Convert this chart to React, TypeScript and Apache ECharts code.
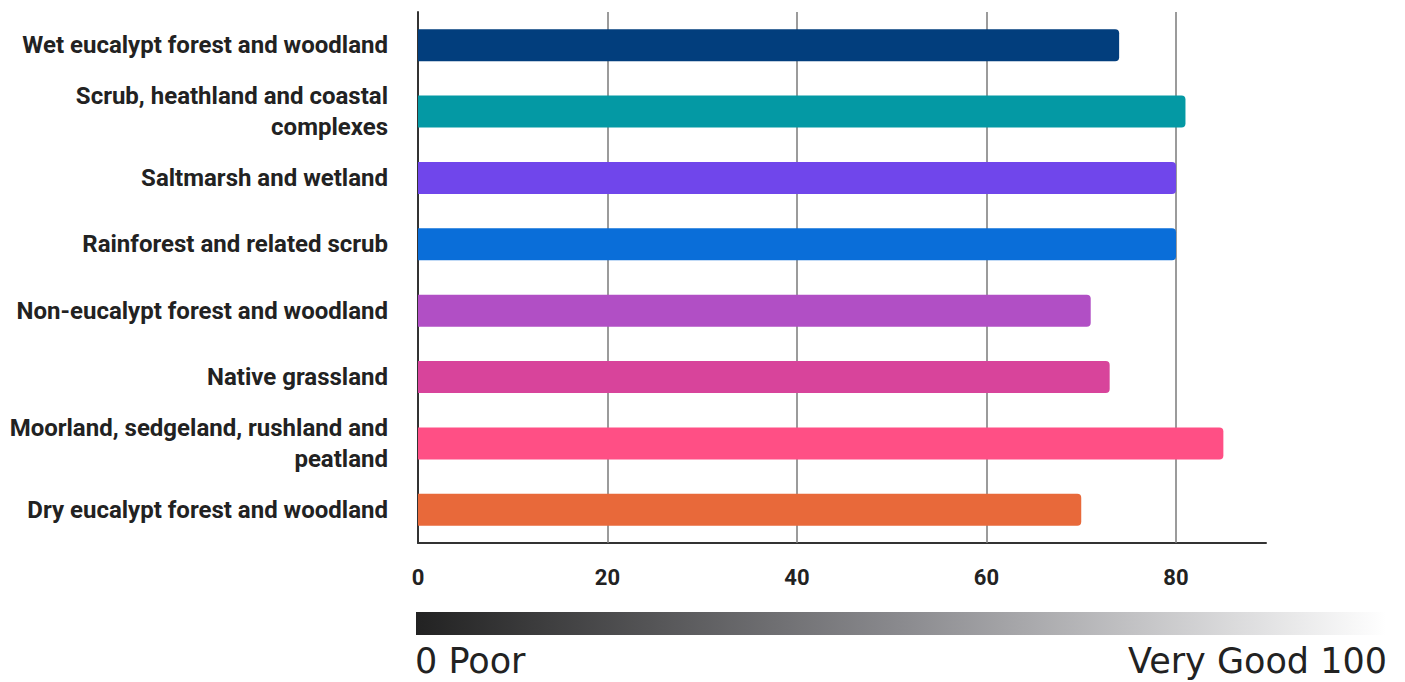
import React, { useEffect, useRef } from "react";
import * as echarts from "echarts";

const categories = [
  "Wet eucalypt forest and woodland",
  "Scrub, heathland and coastal\ncomplexes",
  "Saltmarsh and wetland",
  "Rainforest and related scrub",
  "Non-eucalypt forest and woodland",
  "Native grassland",
  "Moorland, sedgeland, rushland and\npeatland",
  "Dry eucalypt forest and woodland",
];
const values = [74, 81, 80, 80, 71, 73, 85, 70];
const barColors = [
  "#023E7D",
  "#0499A4",
  "#7046EB",
  "#0A6ED9",
  "#B14FC5",
  "#D8449B",
  "#FF4F85",
  "#E8693A",
];
const gridTicks = [20, 40, 60, 80];
const scaleLabels = ["0 Poor", "Very Good 100"];

export default function App() {
  const ref = useRef<HTMLDivElement>(null);
  useEffect(() => {
    if (!ref.current) return;
    const chart = echarts.init(ref.current, undefined, { renderer: "svg" });
    chart.setOption({
      animation: false,
      backgroundColor: "#ffffff",
      grid: { left: 418, top: 12, width: 848, height: 531, containLabel: false },
      xAxis: {
        type: "value",
        min: 0,
        max: 89.5,
        interval: 20,
        splitLine: { show: false },
        axisTick: { show: false },
        axisLine: { show: true, lineStyle: { color: "#333", width: 2 } },
        axisLabel: {
          showMaxLabel: false,
          margin: 23,
          fontFamily: "Roboto",
          fontWeight: "bold",
          fontSize: 22,
          color: "#222",
        },
      },
      yAxis: {
        type: "category",
        data: categories,
        inverse: true,
        axisTick: { show: false },
        axisLine: { show: true, lineStyle: { color: "#333", width: 2 } },
        axisLabel: {
          margin: 30,
          fontFamily: "Roboto",
          fontWeight: "bold",
          fontSize: 24,
          lineHeight: 31,
          color: "#222",
          align: "right",
        },
      },
      series: [
        {
          type: "bar",
          barWidth: 32,
          data: values.map((v, i) => ({
            value: v,
            itemStyle: { color: barColors[i], borderRadius: [0, 4, 4, 0] },
          })),
          z: 3,
          markLine: {
            silent: true,
            symbol: "none",
            label: { show: false },
            lineStyle: { color: "#7a7a7a", width: 1.5, type: "solid" },
            data: gridTicks.map((t) => ({ xAxis: t })),
            z: 1,
          },
        },
      ],
      graphic: [
        {
          type: "rect",
          shape: { x: 416, y: 612, width: 970, height: 23 },
          style: {
            fill: new echarts.graphic.LinearGradient(0, 0, 1, 0, [
              { offset: 0, color: "#222222" },
              { offset: 0.5, color: "#8a8a8e" },
              { offset: 1, color: "#ffffff" },
            ]),
          },
        },
        {
          type: "text",
          x: 415,
          y: 643,
          style: {
            text: scaleLabels[0],
            fontFamily: "DejaVu Sans",
            fontSize: 35,
            fill: "#222",
            textAlign: "left",
            textVerticalAlign: "top",
          },
        },
        {
          type: "text",
          x: 1387,
          y: 643,
          style: {
            text: scaleLabels[1],
            fontFamily: "DejaVu Sans",
            fontSize: 35,
            fill: "#222",
            textAlign: "right",
            textVerticalAlign: "top",
          },
        },
      ],
    });
    return () => chart.dispose();
  }, []);
  return (
    <div
      ref={ref}
      style={{ position: "fixed", left: 0, top: 0, width: 1405, height: 682 }}
    />
  );
}
